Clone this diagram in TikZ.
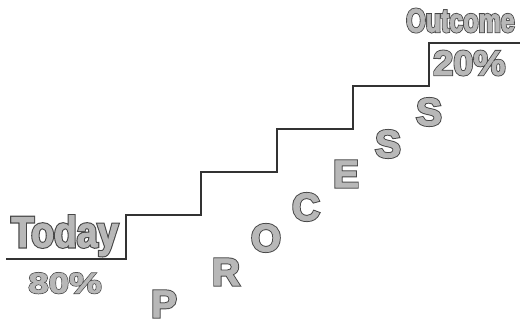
\documentclass[tikz,border=0pt]{standalone}
\usepackage{fontspec}
\setmainfont{Liberation Sans}
\usepackage{tikz}
\usetikzlibrary{positioning}

\definecolor{rim}{gray}{0.28}
\definecolor{face}{gray}{0.72}
\definecolor{stairline}{gray}{0.2}

% letters drawn twice: a heavy dark copy under a light one
\newcommand\embossed[2]{%
  \makebox[0pt][l]{\fontspec[FakeStretch=#1,FakeBold=7]{Liberation Sans Bold}\color{rim}#2}%
  {\fontspec[FakeStretch=#1,FakeBold=2]{Liberation Sans Bold}\color{face}#2}}

\tikzset{
  stair/.style={draw=stairline, line width=1.3pt},
  word/.style={inner sep=0pt, anchor=base west},
  letter/.style={inner sep=0pt, font=\fontsize{29}{29}\selectfont}
}

\begin{document}
\begin{tikzpicture}[x=0.75pt, y=-0.75pt]
  \useasboundingbox (0,0) rectangle (523,328);

  \draw[stair] (6,259) -| (126,215) -| (201,172) -| (277,129)
    -| (353,86) -| (429,43) -- (520,43);

  \node[word, font=\fontsize{32.5}{32.5}\selectfont] (today) at (11,247) {\embossed{0.86}{Today}};
  \node[word, font=\fontsize{21.5}{21.5}\selectfont] (low) at (28,293) {\embossed{1.28}{80\%}};
  \node[word, font=\fontsize{25}{25}\selectfont] (outcome) at (406,32) {\embossed{0.75}{Outcome}};
  \node[word, font=\fontsize{26}{26}\selectfont] (high) at (433,75) {\embossed{1.04}{20\%}};

  \node[letter] (p)  at (164,304) {\embossed{1}{P}};
  \node[letter] (r)  at (226,272) {\embossed{1}{R}};
  \node[letter] (o)  at (266,238) {\embossed{1}{O}};
  \node[letter] (c)  at (306,207) {\embossed{1}{C}};
  \node[letter] (e)  at (346,174) {\embossed{1}{E}};
  \node[letter] (s1) at (388,144) {\embossed{1}{S}};
  \node[letter] (s2) at (429,112) {\embossed{1}{S}};
\end{tikzpicture}
\end{document}
